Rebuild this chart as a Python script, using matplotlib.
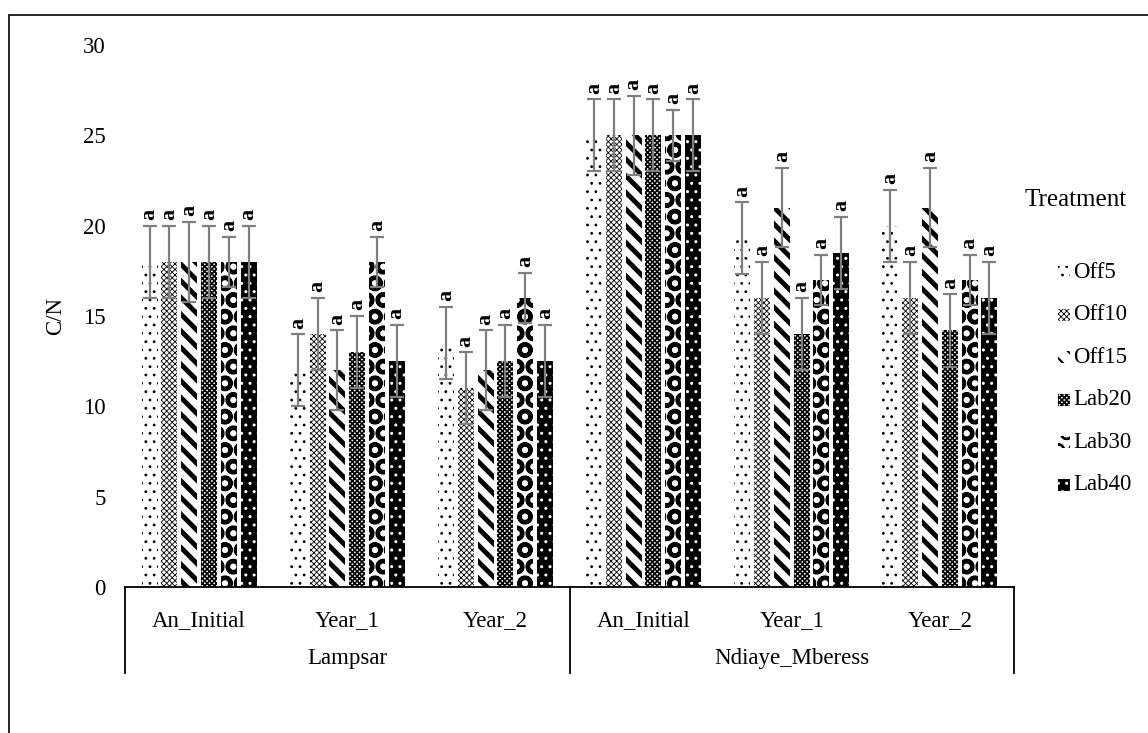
import matplotlib
matplotlib.use("Agg")
import matplotlib.pyplot as plt
from matplotlib.patches import Rectangle
from matplotlib.lines import Line2D
import numpy as np

plt.rcParams['font.family'] = ['Liberation Serif', 'DejaVu Serif']

# ---- data -------------------------------------------------------------
sites = ["Lampsar", "Ndiaye_Mberess"]
periods = ["An_Initial", "Year_1", "Year_2"]
treatments = ["Off5", "Off10", "Off15", "Lab20", "Lab30", "Lab40"]

# C/N means per treatment, in order: Lampsar (An_Initial, Year_1, Year_2),
# Ndiaye_Mberess (An_Initial, Year_1, Year_2)
off5 = [18, 12, 13.5, 25, 19.3, 20]
off10 = [18, 14, 11, 25, 16, 16]
off15 = [18, 12, 12, 25, 21, 21]
lab20 = [18, 13, 12.5, 25, 14, 14.2]
lab30 = [18, 18, 16, 25, 17, 17]
lab40 = [18, 12.5, 12.5, 25, 18.5, 16]

off5_err = [2, 2, 2, 2, 2, 2]
off10_err = [2, 2, 2, 2, 2, 2]
off15_err = [2.2, 2.2, 2.2, 2.2, 2.2, 2.2]
lab20_err = [2, 2, 2, 2, 2, 2]
lab30_err = [1.4, 1.4, 1.4, 1.4, 1.4, 1.4]
lab40_err = [2, 2, 2, 2, 2, 2]

letters = ["a"] * 6

series = [off5, off10, off15, lab20, lab30, lab40]
errors = [off5_err, off10_err, off15_err, lab20_err, lab30_err, lab40_err]

# fill styles for the monochrome bars: (face, hatch colour, hatch, hatch width)
styles = [
    ("white", "black", "..", 0.8),
    ("white", "black", "xxxxxx", 0.6),
    ("white", "black", "\\\\", 3.5),
    ("white", "black", "xxxxxxx", 1.2),
    ("white", "black", "O", 3.0),
    ("black", "white", "..", 1.0),
]

# ---- figure -----------------------------------------------------------
W, H = 1148, 733
fig = plt.figure(figsize=(W / 100, H / 100), dpi=100)
ax = fig.add_axes([125 / W, 1 - 587 / H, (1014 - 125) / W, (587 - 45) / H])

n_cat = len(sites) * len(periods)
x = np.arange(n_cat)
step = 0.1336
width = 0.108
offsets = (np.arange(len(treatments)) - (len(treatments) - 1) / 2) * step

FS = 16.5
for i, (vals, errs) in enumerate(zip(series, errors)):
    face, hcol, hatch, hlw = styles[i]
    pos = x + offsets[i]
    bars = ax.bar(pos, vals, width, color=face, edgecolor=hcol, hatch=hatch,
                  linewidth=0, zorder=2)
    for b in bars:
        if hasattr(b, "set_hatch_linewidth"):
            b.set_hatch_linewidth(hlw)
    ax.errorbar(pos, vals, yerr=errs, fmt="none", ecolor="#7f7f7f",
                elinewidth=1.6, capsize=5, capthick=1.6, zorder=3)
    for px, v, e, lab in zip(pos, vals, errs, letters):
        ax.annotate(lab, (px, v + e), xytext=(0, 4), textcoords="offset points",
                    ha="center", va="bottom", rotation=90, fontsize=16,
                    fontweight="bold", zorder=4)

ax.set_xlim(-0.5, n_cat - 0.5)
ax.set_ylim(0, 30)
ax.set_yticks(np.arange(0, 31, 5))
ax.tick_params(axis="y", length=0, labelsize=FS, pad=14)
ax.set_xticks([])
for s in ["top", "right", "left"]:
    ax.spines[s].set_visible(False)
ax.spines["bottom"].set_linewidth(1.3)
ax.set_ylabel("C/N", fontsize=FS, labelpad=12)

# two-level category labels beneath the axis
trans = ax.get_xaxis_transform()
for i in range(n_cat):
    ax.text(i, -0.061, periods[i % len(periods)], transform=trans,
            ha="center", va="center", fontsize=FS)
for j, site in enumerate(sites):
    ax.text(j * len(periods) + (len(periods) - 1) / 2, -0.131, site,
            transform=trans, ha="center", va="center", fontsize=FS)
for xb in [-0.5, 2.5, 5.5]:
    ax.add_line(Line2D([xb, xb], [0, -0.159], transform=trans, color="black",
                       linewidth=1.3, clip_on=False))

# legend, drawn in figure pixel coordinates
fig.text(1076 / W, 1 - 200 / H, "Treatment", ha="center", va="center",
         fontsize=18)
for k, name in enumerate(treatments):
    yc = 272 + k * 42.6
    face, hcol, hatch, hlw = styles[k]
    r = Rectangle((1058 / W, 1 - (yc + 6) / H), 12 / W, 12 / H,
                  transform=fig.transFigure, facecolor=face, edgecolor=hcol,
                  hatch=hatch, linewidth=0)
    if hasattr(r, "set_hatch_linewidth"):
        r.set_hatch_linewidth(min(hlw, 1.5))
    fig.patches.append(r)
    fig.text(1073 / W, 1 - yc / H, name, ha="left", va="center", fontsize=FS)

# outer frame
fig.patches.append(Rectangle((9 / W, -0.1), 1.2, 1 - 15 / H + 0.1,
                             transform=fig.transFigure, fill=False,
                             edgecolor="black", linewidth=1.2))

fig.savefig("out.png", dpi=100)
